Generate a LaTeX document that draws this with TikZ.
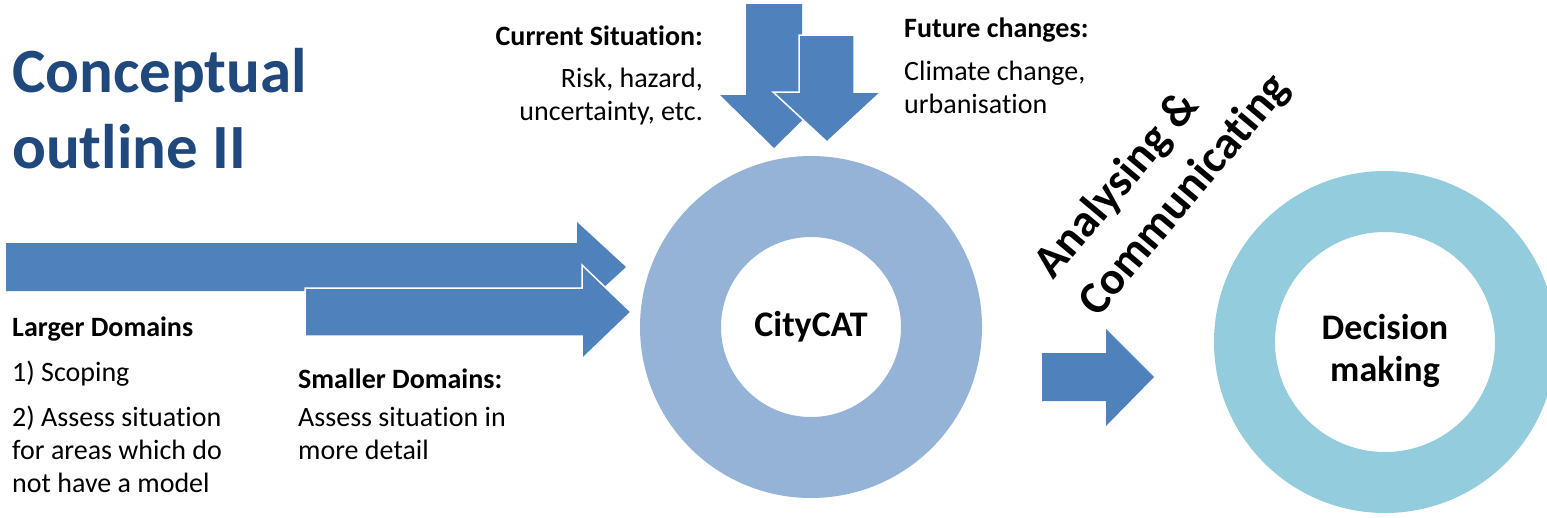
\documentclass[tikz,border=0pt]{standalone}
\usepackage{fontspec}
\setmainfont{Carlito}[Ligatures=NoCommon]
\usetikzlibrary{positioning}
\definecolor{arrowblue}{HTML}{4F81BD}
\definecolor{ringblue}{HTML}{95B3D7}
\definecolor{ringteal}{HTML}{93CDDD}
\definecolor{titleblue}{HTML}{1F497D}
\tikzset{
	blockarrow/.style = {
		fill=arrowblue
	},
	overarrow/.style = {
		blockarrow,
		draw=white,
		line width=1.5pt
	},
	ring/.style = {
		circle,
		inner sep=0pt,
		outer sep=0pt
	},
	ringtext/.style = {
		inner sep=0pt,
		align=center,
		font=\fontsize{36}{42}\selectfont\bfseries
	},
	txt/.style = {
		inner sep=0pt,
		font=\fontsize{28}{33}\selectfont
	},
	title/.style = {
		txt,
		align=left,
		anchor=base west,
		text=titleblue,
		font=\fontsize{63}{76}\selectfont\bfseries
	},
}

\begin{document}
\begin{tikzpicture}[x=1pt,y=-1pt]
\useasboundingbox (0,0) rectangle (1547,517);
% title (anchored at the last baseline)
\node [title] (title) at (12,168) {Conceptual\\outline II};
% arrows from the left
\fill [blockarrow] (6,243) -- (577,243) -- (577,222) -- (626,267) -- (577,312) -- (577,291) -- (6,291) -- cycle;
\filldraw [overarrow] (305,288) -- (582,288) -- (582,265) -- (631,312) -- (582,359) -- (582,336) -- (305,336) -- cycle;
% arrows from the top
\fill [blockarrow] (746,4) -- (802,4) -- (802,95) -- (828,95) -- (774,148) -- (720,95) -- (746,95) -- cycle;
\filldraw [overarrow] (799,35) -- (854,35) -- (854,92) -- (881,92) -- (827,142) -- (773,92) -- (799,92) -- cycle;
% arrow to decision
\fill [blockarrow] (1042,353) -- (1106,353) -- (1106,329) -- (1154,377) -- (1106,426) -- (1106,401) -- (1042,401) -- cycle;
% rings
\node [ring, draw=ringblue, line width=81pt, minimum size=261pt] (citycat) at (811,327) {};
\node [ringtext] (citycattxt) at (citycat.center) {CityCAT};
\node [ring, draw=ringteal, line width=61pt, minimum size=281pt] (decision) at (1385,342) {};
\node [ringtext, yshift=-9pt] (decisiontxt) at (decision.center) {Decision\\making};
% texts (anchored at the last baseline)
\node [txt, align=left, anchor=base west] (larger) at (12,492) {\textbf{Larger Domains}\\[12pt]1) Scoping\\[12pt]2) Assess situation\\for areas which do\\not have a model};
\node [txt, align=left, anchor=base west] (smaller) at (298,459) {\textbf{Smaller Domains:}\\[5pt]Assess situation in\\more detail};
\node [txt, align=right, anchor=base east] (current) at (703,120) {\textbf{Current Situation:}\\[9pt]Risk, hazard,\\uncertainty, etc.};
\node [txt, align=left, anchor=base west] (future) at (904,113) {\textbf{Future changes:}\\[10pt]Climate change,\\urbanisation};
\node [txt, align=left, rotate=50, font=\fontsize{46}{58}\selectfont\bfseries] (analyse) at (1163,177) {Analysing \&\\Communicating};
\end{tikzpicture}
\end{document}
